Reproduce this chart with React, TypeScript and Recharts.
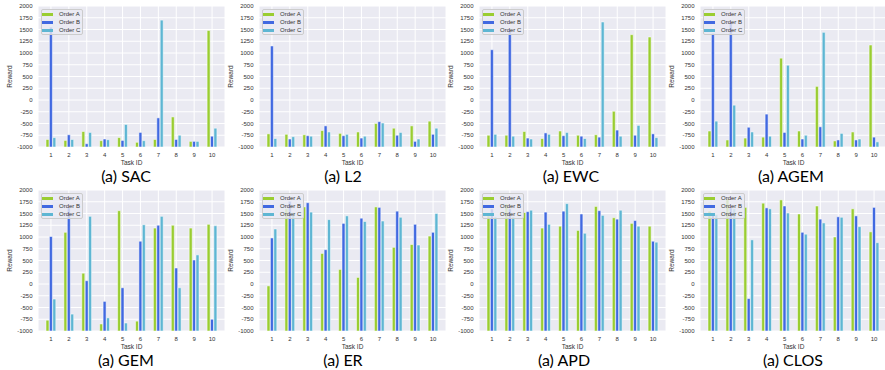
import { BarChart, Bar, XAxis, YAxis, CartesianGrid, Legend } from 'recharts'

const tasks = [1, 2, 3, 4, 5, 6, 7, 8, 9, 10]
const yTicks = [-1000, -750, -500, -250, 0, 250, 500, 750, 1000, 1250, 1500, 1750, 2000]
const FLOOR = -1000

const sacA = [-840, -860, -670, -865, -800, -900, -840, -360, -880, 1480]
const sacB = [1550, -740, -930, -830, -860, -690, -380, -840, -880, -770]
const sacC = [-800, -840, -690, -845, -520, -865, 1700, -750, -880, -600]

const l2A = [-720, -730, -740, -650, -710, -680, -500, -600, -550, -450]
const l2B = [1150, -830, -760, -550, -760, -810, -460, -750, -880, -730]
const l2C = [-820, -780, -770, -680, -730, -770, -490, -690, -830, -600]

const ewcA = [-750, -750, -670, -820, -660, -750, -740, -240, 1390, 1340]
const ewcB = [1070, 1500, -810, -700, -760, -770, -790, -640, -750, -720]
const ewcC = [-730, -770, -830, -730, -690, -820, 1660, -770, -540, -800]

const agemA = [-660, -850, -810, -790, 890, -660, 290, -870, -680, 1170]
const agemB = [1420, 1660, -580, -300, -690, -830, -570, -850, -850, -790]
const agemC = [-450, -110, -680, -770, 740, -750, 1440, -710, -830, -890]

const gemA = [-770, 1100, 230, -850, 1560, -790, 1190, 1250, 1190, 1270]
const gemB = [1010, 1620, 70, -370, -80, 910, 1250, 340, 510, -750]
const gemC = [-320, -640, 1440, -720, -830, 1260, 1440, -80, 620, 1240]

const erA = [-40, 1600, 1640, 650, 310, 140, 1640, 780, 840, 1020]
const erB = [980, 1760, 1730, 730, 1290, 1400, 1630, 1550, 1270, 1100]
const erC = [1170, 1520, 1530, 1370, 1450, 1330, 1340, 1420, 830, 1500]

const apdA = [1450, 1700, 1520, 1190, 1230, 1140, 1650, 1410, 1290, 1230]
const apdB = [1600, 1600, 1540, 1530, 1550, 1490, 1560, 1380, 1350, 910]
const apdC = [1430, 1430, 1570, 1270, 1710, 1080, 1460, 1570, 1230, 890]

const closA = [1550, 1820, 1630, 1720, 1790, 1490, 1660, 1000, 1600, 1110]
const closB = [1500, 1620, -310, 1620, 1660, 1100, 1380, 1430, 1450, 1630]
const closC = [1480, 1600, 940, 1600, 1510, 1060, 1300, 1420, 1220, 880]

const colorA = '#9ACD32'
const colorB = '#4169E1'
const colorC = '#5EB6D3'

const methods = [
  { name: 'SAC', a: sacA, b: sacB, c: sacC },
  { name: 'L2', a: l2A, b: l2B, c: l2C },
  { name: 'EWC', a: ewcA, b: ewcB, c: ewcC },
  { name: 'AGEM', a: agemA, b: agemB, c: agemC },
  { name: 'GEM', a: gemA, b: gemB, c: gemC },
  { name: 'ER', a: erA, b: erB, c: erC },
  { name: 'APD', a: apdA, b: apdB, c: apdC },
  { name: 'CLOS', a: closA, b: closB, c: closC },
]

// caption centres drift a little from panel to panel in the original
const captionX = [126, 122, 130, 129, 126, 122, 123, 131]
const panelLeft = [0, 221, 441, 662]
const panelTop = [0, 184]

const tickStyle = { fontSize: 6, fill: '#333', fontFamily: 'Liberation Sans, Arial, sans-serif' }

function OrderLegend() {
  const items = [
    { label: 'Order A', color: colorA },
    { label: 'Order B', color: colorB },
    { label: 'Order C', color: colorC },
  ]
  return (
    <div
      style={{
        background: 'rgba(234,234,242,0.8)',
        border: '1px solid #ccc',
        borderRadius: 2,
        width: 40,
        fontFamily: 'Liberation Sans, Arial, sans-serif',
      }}
    >
      {items.map((it) => (
        <div key={it.label} style={{ display: 'flex', alignItems: 'center', height: 8 }}>
          <span style={{ width: 11, height: 3, background: it.color, marginRight: 6, flexShrink: 0 }} />
          <span style={{ fontSize: 6, color: '#333', whiteSpace: 'nowrap', lineHeight: '8px' }}>{it.label}</span>
        </div>
      ))}
    </div>
  )
}

function Panel({ idx }: { idx: number }) {
  const m = methods[idx]
  const data = tasks.map((t, i) => ({ task: t, a: m.a[i], b: m.b[i], c: m.c[i] }))
  const left = panelLeft[idx % 4]
  const top = panelTop[Math.floor(idx / 4)]

  return (
    <div style={{ position: 'absolute', left, top, width: 226, height: 186 }}>
      <BarChart
        width={226}
        height={170}
        data={data}
        margin={{ top: 6, right: 1, bottom: 0, left: 0 }}
        barSize={3}
        barGap={0.4}
      >
        <CartesianGrid stroke="#fff" strokeWidth={1} fill="#EAEAF2" fillOpacity={1} />
        <XAxis
          dataKey="task"
          height={23}
          padding={{ left: 4, right: 4 }}
          axisLine={false}
          tickLine={false}
          tickSize={0}
          tickMargin={6}
          tick={tickStyle}
          interval={0}
          label={{ value: 'Task ID', position: 'insideBottom', offset: 5.5, style: { ...tickStyle, fontSize: 6.5 } }}
        />
        <YAxis
          width={38}
          type="number"
          domain={[-1000, 2000]}
          ticks={yTicks}
          interval={0}
          axisLine={false}
          tickLine={false}
          tickSize={0}
          tickMargin={5.5}
          tick={tickStyle}
          label={{
            value: 'Reward',
            angle: -90,
            position: 'insideLeft',
            offset: 10,
            style: { ...tickStyle, fontSize: 6.5, textAnchor: 'middle' },
          }}
        />
        <Legend
          layout="vertical"
          align="center"
          verticalAlign="middle"
          wrapperStyle={{ left: 41, top: 9, width: 'auto', height: 'auto' }}
          content={() => <OrderLegend />}
        />
        <Bar dataKey={(d: any) => [FLOOR, d.a]} name="Order A" fill={colorA} stroke="#fff" strokeWidth={0.5} isAnimationActive={false} />
        <Bar dataKey={(d: any) => [FLOOR, d.b]} name="Order B" fill={colorB} stroke="#fff" strokeWidth={0.5} isAnimationActive={false} />
        <Bar dataKey={(d: any) => [FLOOR, d.c]} name="Order C" fill={colorC} stroke="#fff" strokeWidth={0.5} isAnimationActive={false} />
      </BarChart>
      <div
        style={{
          position: 'absolute',
          left: captionX[idx] - 60,
          width: 120,
          top: 166,
          height: 20,
          lineHeight: '20px',
          textAlign: 'center',
          fontSize: 16,
          fontFamily: 'Lato, sans-serif',
          color: '#000',
        }}
      >
        (a) {m.name}
      </div>
    </div>
  )
}

export default function App() {
  return (
    <div style={{ position: 'absolute', left: 0, top: 0, width: 885, height: 370, background: '#fff', overflow: 'hidden' }}>
      {methods.map((m, i) => (
        <Panel key={m.name} idx={i} />
      ))}
    </div>
  )
}
